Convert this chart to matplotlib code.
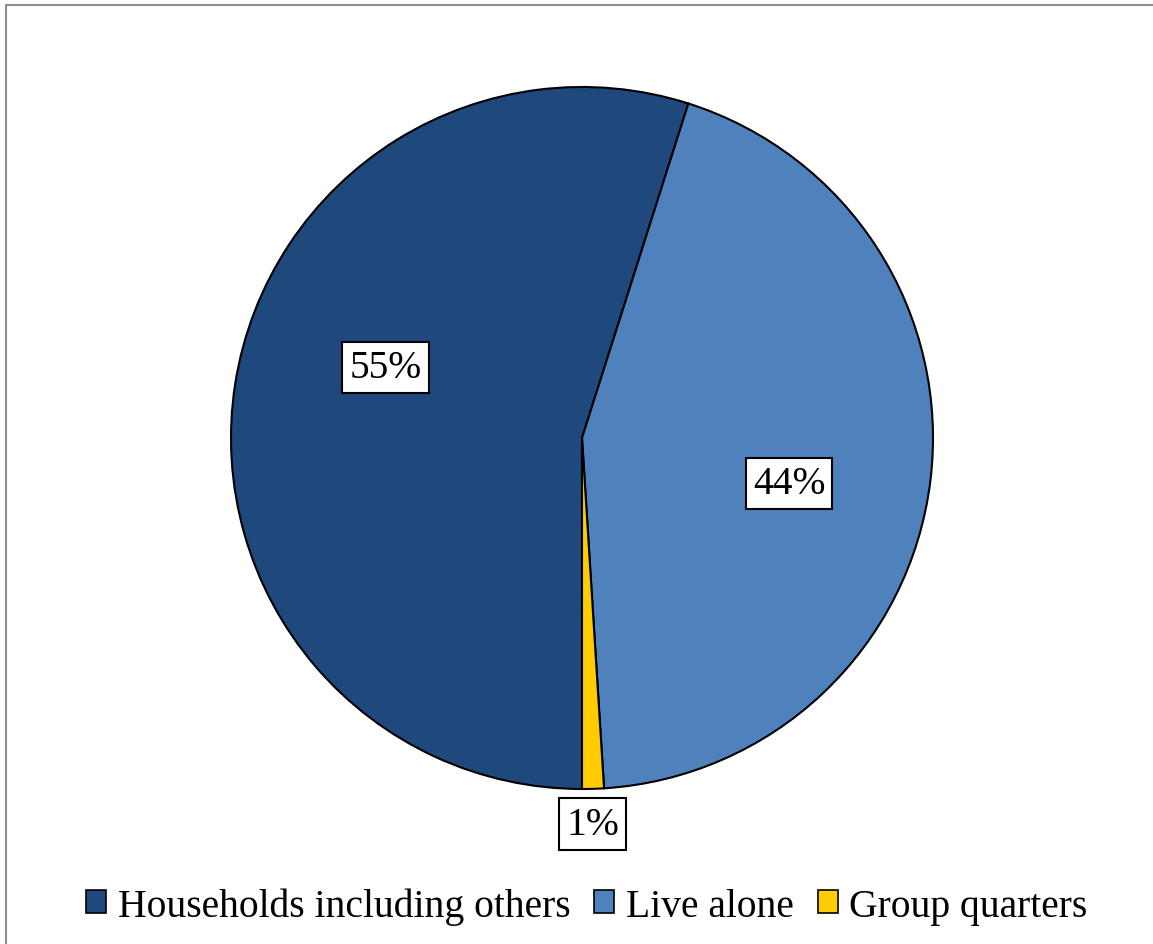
import matplotlib
matplotlib.use('Agg')
import matplotlib.pyplot as plt
from matplotlib.patches import Patch
from matplotlib.lines import Line2D

plt.rcParams['font.family'] = ['Liberation Serif', 'DejaVu Serif']

categories = ['Households including others', 'Live alone', 'Group quarters']
shares = [54.9, 44.1, 1.0]
labels = ['55%', '44%', '1%']
colors = ['#1F497D', '#4F81BD', '#FFCC00']
label_pos = [(-0.56, 0.20), (0.59, -0.13), (0.03, -1.10)]

W, H = 1153, 945
fig = plt.figure(figsize=(W / 100, H / 100), dpi=100)

cx, cy, r = 582, 439, 351
ax = fig.add_axes([(cx - r) / W, (H - cy - r) / H, 2 * r / W, 2 * r / H])
ax.pie(shares, colors=colors, startangle=-90, counterclock=False,
       wedgeprops={'edgecolor': 'black', 'linewidth': 1.5})
ax.set_xlim(-1, 1)
ax.set_ylim(-1, 1)
ax.axis('off')

for lab, (x, y) in zip(labels, label_pos):
    ax.text(x, y, lab, ha='center', va='center', fontsize=28.5,
            bbox=dict(boxstyle='square,pad=0.18', facecolor='white',
                      edgecolor='black', linewidth=1.5))

handles = [Patch(facecolor=c, edgecolor='black', linewidth=1.2) for c in colors]
fig.legend(handles, categories, loc='center', bbox_to_anchor=(587 / W, 1 - 907 / H),
           ncol=3, frameon=False, fontsize=28.5, handlelength=0.5, handleheight=0.5,
           handletextpad=0.3, columnspacing=0.6)

# chart area outline (only top and left edges fall inside the image)
fig.add_artist(Line2D([5.5 / W, 5.5 / W, 1.0], [0.0, 1 - 5.5 / H, 1 - 5.5 / H],
                      transform=fig.transFigure, color='#8c8c8c', linewidth=1.5))

fig.savefig('out.png', dpi=100)
